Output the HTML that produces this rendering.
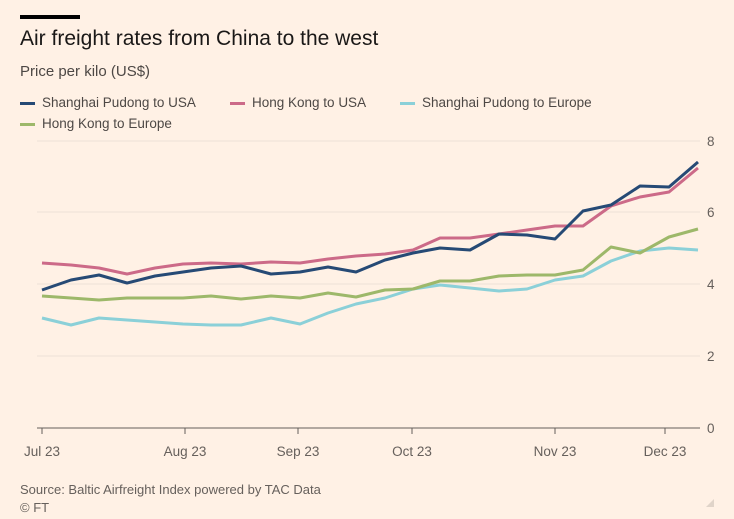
<!DOCTYPE html>
<html><head><meta charset="utf-8"><style>
body{margin:0;width:734px;height:519px;background:#fff1e5;font-family:"Liberation Sans",sans-serif;overflow:hidden;position:relative}
.t{position:absolute;white-space:nowrap}
</style></head><body>
<div style="position:absolute;left:20px;top:15px;width:60px;height:4px;background:#000"></div>
<div class="t" style="left:20px;top:27px;font-size:21px;color:#1a1817;letter-spacing:0px">Air freight rates from China to the west</div>
<div class="t" style="left:20px;top:63px;font-size:15px;color:#4d4845">Price per kilo (US$)</div>
<div class="t" style="left:20px;top:95px;font-size:13.5px;color:#4d4845">
<span style="display:inline-block;width:15px;height:3px;background:#264a75;vertical-align:middle;margin-right:7px"></span>Shanghai Pudong to USA</div>
<div class="t" style="left:230px;top:95px;font-size:13.5px;color:#4d4845">
<span style="display:inline-block;width:15px;height:3px;background:#cc6a88;vertical-align:middle;margin-right:7px"></span>Hong Kong to USA</div>
<div class="t" style="left:400px;top:95px;font-size:13.5px;color:#4d4845">
<span style="display:inline-block;width:15px;height:3px;background:#8bd0d8;vertical-align:middle;margin-right:7px"></span>Shanghai Pudong to Europe</div>
<div class="t" style="left:20px;top:116px;font-size:13.5px;color:#4d4845">
<span style="display:inline-block;width:15px;height:3px;background:#9db86a;vertical-align:middle;margin-right:7px"></span>Hong Kong to Europe</div>
<svg width="734" height="519" style="position:absolute;left:0;top:0">
<g stroke="#ede1d6" stroke-width="1">
<line x1="37" y1="141" x2="700" y2="141"/><line x1="37" y1="212" x2="700" y2="212"/>
<line x1="37" y1="284" x2="700" y2="284"/><line x1="37" y1="356" x2="700" y2="356"/>
</g>
<line x1="37" y1="428" x2="700" y2="428" stroke="#66605c" stroke-width="1"/>
<g stroke="#66605c"><line x1="42" y1="428" x2="42" y2="434"/><line x1="185" y1="428" x2="185" y2="434"/><line x1="298" y1="428" x2="298" y2="434"/><line x1="412" y1="428" x2="412" y2="434"/><line x1="555" y1="428" x2="555" y2="434"/><line x1="665" y1="428" x2="665" y2="434"/></g>
<g font-family="Liberation Sans" font-size="13.5" fill="#66605c">
<text x="707" y="146">8</text><text x="707" y="217">6</text><text x="707" y="289">4</text><text x="707" y="361">2</text><text x="707" y="433">0</text>
<text x="42" y="456" text-anchor="middle">Jul 23</text><text x="185" y="456" text-anchor="middle">Aug 23</text><text x="298" y="456" text-anchor="middle">Sep 23</text><text x="412" y="456" text-anchor="middle">Oct 23</text><text x="555" y="456" text-anchor="middle">Nov 23</text><text x="665" y="456" text-anchor="middle">Dec 23</text>
<text x="20" y="494" font-size="13" fill="#66605c">Source: Baltic Airfreight Index powered by TAC Data</text>
<text x="20" y="512" font-size="13" fill="#66605c">© FT</text>
</g>
<g fill="none" stroke-width="3" stroke-linejoin="round">
<polyline stroke="#8bd0d8" points="42,318 71,325 99,318 127,320 155,322 183,324 211,325 241,325 271,318 300,324 328,313 356,304 385,298 413,289 440,285 470,288 499,291 527,289 555,280 583,276 611,261 640,251 669,248 698,250"/>
<polyline stroke="#9db86a" points="42,296 71,298 99,300 127,298 155,298 183,298 211,296 241,299 271,296 300,298 328,293 356,297 385,290 413,289 440,281 470,281 499,276 527,275 555,275 583,270 611,247 640,253 669,237 698,229"/>
<polyline stroke="#cc6a88" points="42,263 71,265 99,268 127,274 155,268 183,264 211,263 241,264 271,262 300,263 328,259 356,256 385,254 413,250 440,238 470,238 499,234 527,230 555,226 583,226 611,206 640,197 669,192 698,168"/>
<polyline stroke="#264a75" points="42,290 71,280 99,275 127,283 155,276 183,272 211,268 241,266 271,274 300,272 328,267 356,272 385,260 413,253 440,248 470,250 499,234 527,235 555,239 583,211 611,205 640,186 669,187 698,162"/>
</g>
<path d="M706 507 L714 499 L714 507 Z" fill="#e0d4c9"/>
</svg>
</body></html>
